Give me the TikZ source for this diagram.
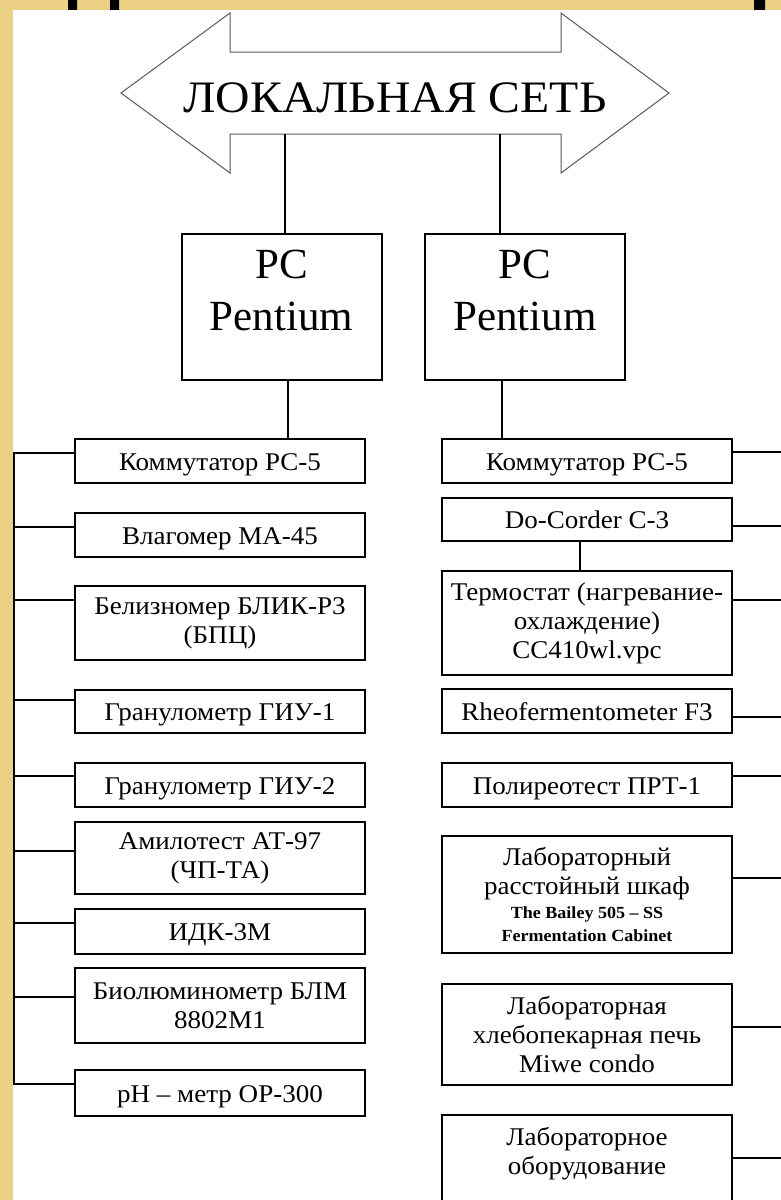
\documentclass[tikz,border=0pt]{standalone}
\usepackage{fontspec}
\setmainfont{Liberation Serif}
\newfontfamily\boxfont{Liberation Serif}[FakeStretch=1.06]
\newfontfamily\lanfont{Liberation Serif}[FakeStretch=1.06]
\usetikzlibrary{positioning, calc}
\definecolor{parchment}{HTML}{ECD184}

\begin{document}
\begin{tikzpicture}[x=1pt, y=-1pt,
		box/.style={draw,rectangle,line width=2pt,minimum width=290pt,inner sep=0pt,anchor=north,align=center,font=\boxfont\fontsize{25.5}{29}\selectfont},
		onebox/.style={box,text height=18pt,text depth=0pt},
		pc/.style={draw,rectangle,line width=2pt,minimum width=200pt,inner sep=0pt,anchor=north,align=center,text height=96pt,text depth=50pt,font=\fontsize{43}{52}\selectfont},
		link/.style={line width=2pt},
		lan/.style={draw=black!65,line width=1pt,fill=white}
		]
		\clip (0,0) rectangle (781,1200);
		% background
		\fill[parchment] (0,0) rectangle (781,1200);
		\fill[black] (68,0) rectangle (77,10) (110,0) rectangle (119,10) (754,0) rectangle (765,10);
		\fill[white] (13,10) rectangle (781,1200);
		% network arrow
		\draw[lan] (121,93) -- (230,13) -- (230,52) -- (561,52) -- (561,13) -- (669,93) -- (561,173) -- (561,134) -- (230,134) -- (230,173) -- cycle;
		\node (lantext) [anchor=base,font=\lanfont\fontsize{45}{50}\selectfont] at (395,112) {ЛОКАЛЬНАЯ СЕТЬ};
		\coordinate (lanl) at (285,134);
		\coordinate (lanr) at (500,134);
		% computers
		\node (pcl) [pc] at (281.5,233) {PC\\Pentium};
		\node (pcr) [pc] at (525,233) {PC\\Pentium};
		\draw [link] (lanl) -- (lanl |- pcl.north);
		\draw [link] (lanr) -- (lanr |- pcr.north);
		% left column
		\node (l1) [onebox,minimum height=44pt] at (220,438) {Коммутатор РС-5};
		\node (l2) [onebox,minimum height=44pt] at (220,512) {Влагомер МА-45};
		\node (l3) [box,minimum height=74pt] at (220,585) {Белизномер БЛИК-Р3\\(БПЦ)};
		\node (l4) [onebox,minimum height=43pt] at (220,689) {Гранулометр ГИУ-1};
		\node (l5) [onebox,minimum height=44pt] at (220,762) {Гранулометр ГИУ-2};
		\node (l6) [box,minimum height=72pt] at (220,821) {Амилотест АТ-97\\(ЧП-ТА)};
		\node (l7) [onebox,minimum height=45pt] at (220,908) {ИДК-3М};
		\node (l8) [box,minimum height=75pt] at (220,967) {Биолюминометр БЛМ\\8802М1};
		\node (l9) [onebox,minimum height=46pt] at (220,1069) {pH – метр ОР-300};
		% right column
		\node (r1) [onebox,minimum height=44pt] at (587,438) {Коммутатор РС-5};
		\node (r2) [onebox,minimum height=43pt] at (587,497) {Do-Corder C-3};
		\node (r3) [box,minimum height=104pt] at (587,570) {Термостат (нагревание-\\охлаждение)\\CC410wl.vpc};
		\node (r4) [onebox,minimum height=44pt] at (587,688) {Rheofermentometer F3};
		\node (r5) [onebox,minimum height=44pt] at (587,762) {Полиреотест ПРТ-1};
		\node (r6) [box,minimum height=117pt] at (587,835) {Лабораторный\\расстойный шкаф\\[-5pt]{\bfseries\fontsize{17}{23}\selectfont The Bailey 505 – SS}\\[-6pt]{\bfseries\fontsize{17}{23}\selectfont Fermentation Cabinet}};
		\node (r7) [box,minimum height=101pt] at (587,983) {Лабораторная\\хлебопекарная печь\\Miwe condo};
		\node (r8) [box,text height=59pt,text depth=100pt] at (587,1114) {Лабораторное\\оборудование};
		% links
		\draw [link] (pcl.south -| 288,0) -- (l1.north -| 288,0);
		\draw [link] (pcr.south -| 502,0) -- (r1.north -| 502,0);
		\draw [link] (r2.south -| 580,0) -- (r3.north -| 580,0);
		\coordinate (lbus) at (14,0);
		\coordinate (rbus) at (781,0);
		\draw [link] (l1.west |- 0,453) -- (lbus |- 0,453) -- (lbus |- 0,1084) -- (l9.west |- 0,1084);
		\foreach \n/\y in {l2/527,l3/600,l4/700,l5/776,l6/851,l7/923,l8/997}
			\draw [link] (lbus |- 0,\y) -- (\n.west |- 0,\y);
		\foreach \n/\y in {r1/452,r2/526,r3/600,r4/717,r5/776,r6/878,r7/1027,r8/1158}
			\draw [link] (\n.east |- 0,\y) -- (rbus |- 0,\y);
	\end{tikzpicture}
\end{document}
